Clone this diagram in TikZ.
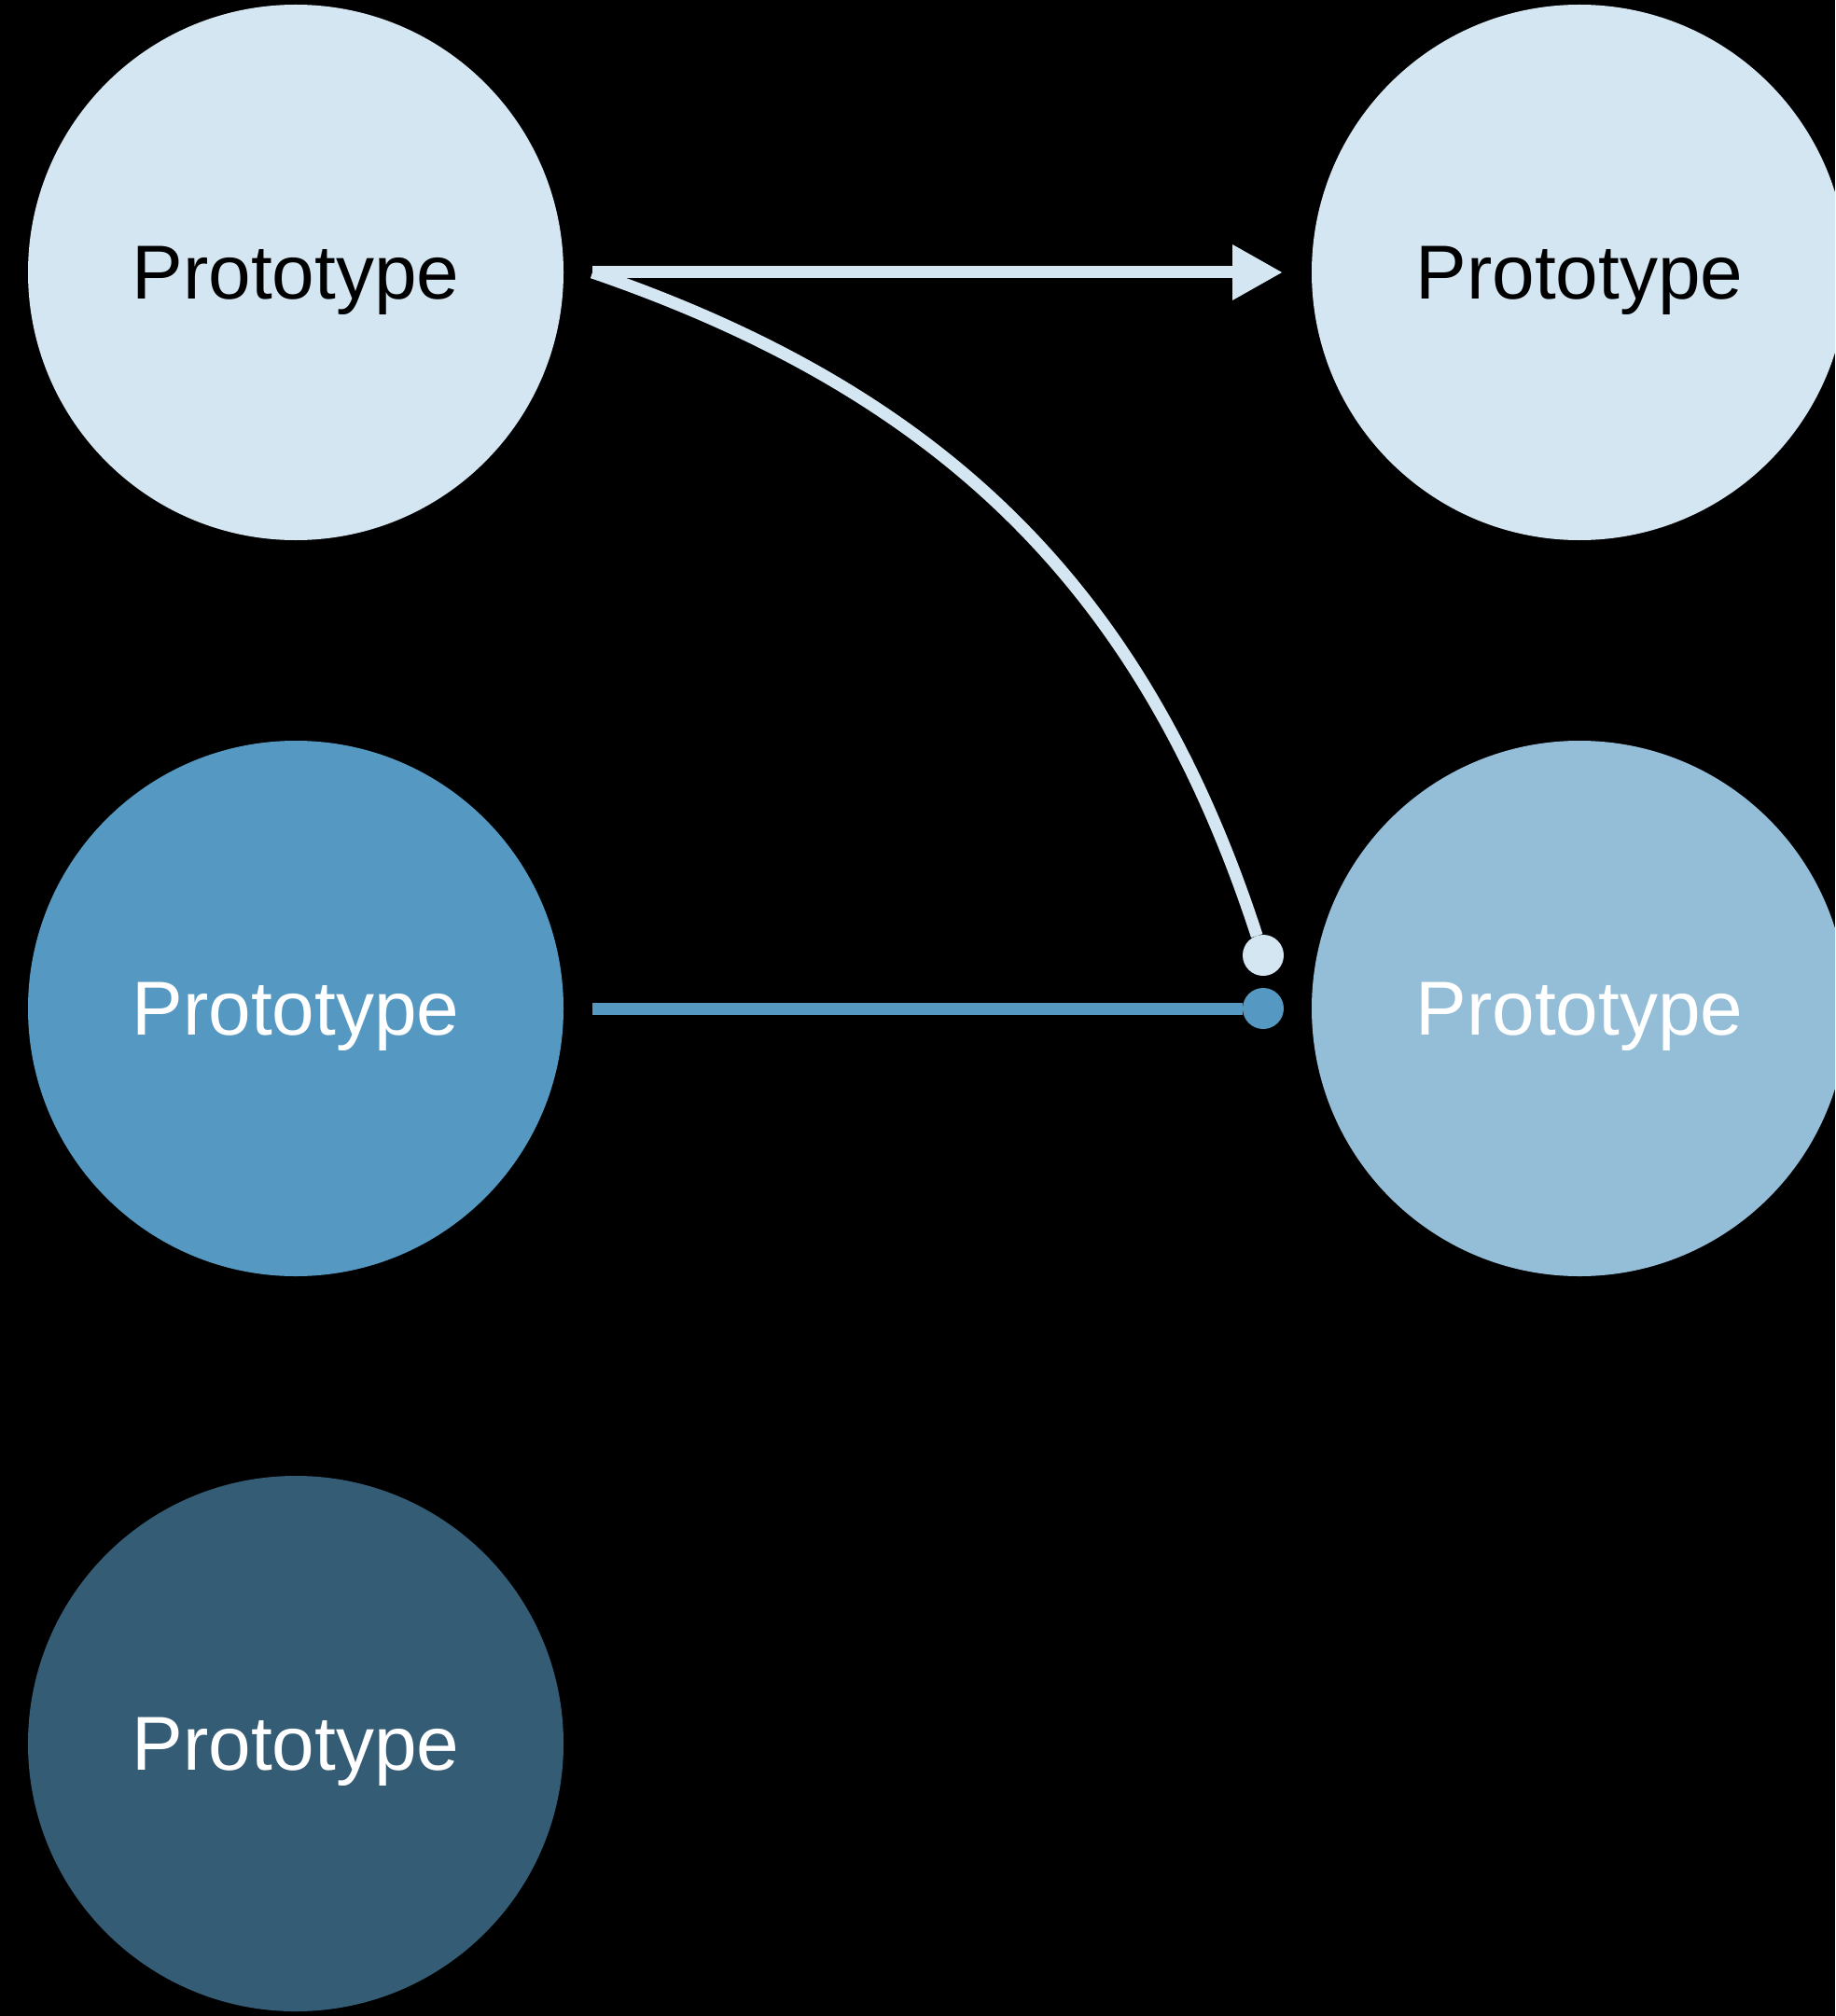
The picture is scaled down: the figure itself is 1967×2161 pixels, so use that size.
\documentclass[tikz,border=0pt]{standalone}
\usepackage{fontspec}
\setmainfont{Liberation Sans}
\usetikzlibrary{arrows.meta}

\definecolor{pale}{HTML}{D4E6F1}
\definecolor{mid}{HTML}{5599C3}
\definecolor{soft}{HTML}{94BDD7}
\definecolor{deep}{HTML}{345C75}

\begin{document}
\begin{tikzpicture}[x=0.5pt, y=-0.5pt,
        proto/.style={circle, minimum size=287pt, inner sep=0pt, outer sep=15.5pt,
            text depth=0pt, font=\fontsize{41}{49}\selectfont},
        pin/.style={circle, minimum size=22pt, inner sep=0pt, outer sep=0pt},
        link/.style={line width=6.5pt}]
                \fill[black] (0,0) rectangle (1967,2161);
                \clip (0,0) rectangle (1967,2161);
                \node[proto, fill=pale, text=black] (11) at (317,292) {Prototype};
                \node[proto, fill=pale, text=black] (12) at (1693,292) {Prototype};
                \node[proto, fill=mid, text=white] (21) at (317,1081) {Prototype};
                \node[proto, fill=soft, text=white] (22) at (1693,1081) {Prototype};
                \node[proto, fill=deep, text=white] (31) at (317,1869) {Prototype};
                \node[pin] (p1) at (1354,1024) {};
                \node[pin] (p2) at (1354,1081) {};
                \draw[link, pale, -{Triangle[length=27pt, width=28pt]}] (11) -- (12);
                \draw[link, pale] (11.east) to[out=-19, in=108] (p1);
                \draw[link, mid] (21) -- (p2);
                \fill[pale] (p1) circle (11pt);
                \fill[mid] (p2) circle (11pt);
\end{tikzpicture}
\end{document}
